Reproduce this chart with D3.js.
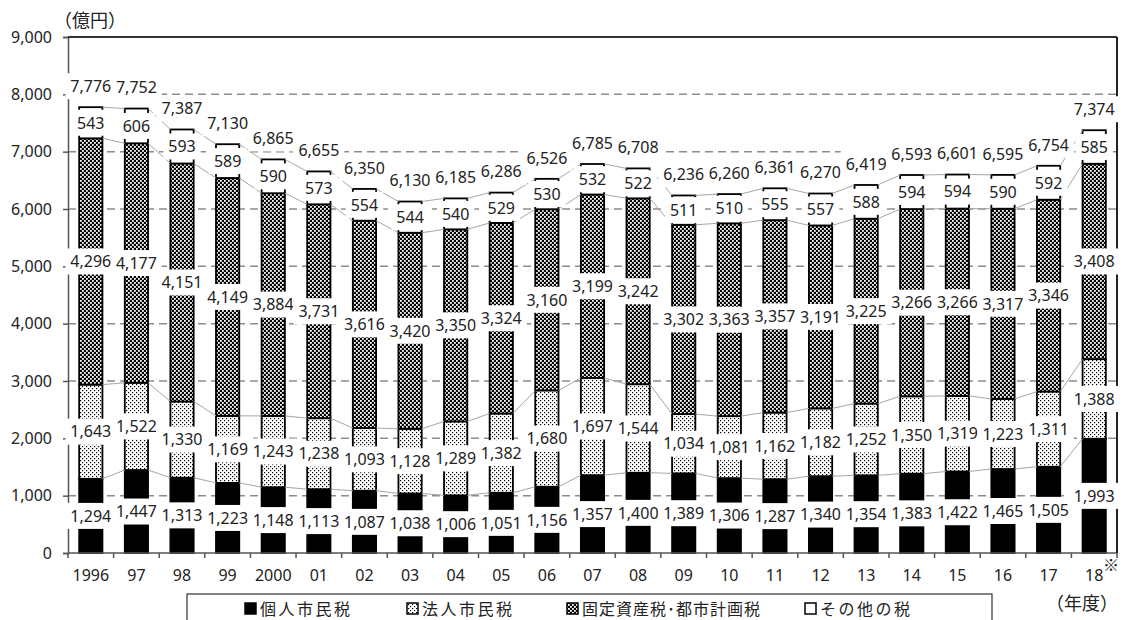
<!DOCTYPE html>
<html>
<head>
<meta charset="utf-8">
<script src="https://cdn.jsdelivr.net/npm/d3@7"></script>
<style>
  body { margin: 0; background: #fff; }
  svg text { font-family: "Noto Sans", "Noto Sans CJK JP", sans-serif; }
  .jp { font-family: "Noto Sans CJK JP", sans-serif; }
</style>
</head>
<body>
<svg id="chart" width="1125" height="620"></svg>
<script>
/*Data*/
var years = ['1996','97','98','99','2000','01','02','03','04','05','06','07','08','09','10','11','12','13','14','15','16','17','18'];
var kojin  = [1294,1447,1313,1223,1148,1113,1087,1038,1006,1051,1156,1357,1400,1389,1306,1287,1340,1354,1383,1422,1465,1505,1993];
var hojin  = [1643,1522,1330,1169,1243,1238,1093,1128,1289,1382,1680,1697,1544,1034,1081,1162,1182,1252,1350,1319,1223,1311,1388];
var kotei  = [4296,4177,4151,4149,3884,3731,3616,3420,3350,3324,3160,3199,3242,3302,3363,3357,3191,3225,3266,3266,3317,3346,3408];
var sonota = [543,606,593,589,590,573,554,544,540,529,530,532,522,511,510,555,557,588,594,594,590,592,585];
var totals = [7776,7752,7387,7130,6865,6655,6350,6130,6185,6286,6526,6785,6708,6236,6260,6361,6270,6419,6593,6601,6595,6754,7374];
var yTicks = [0,1000,2000,3000,4000,5000,6000,7000,8000,9000];
var seriesNames = ['個人市民税','法人市民税','固定資産税･都市計画税','その他の税'];

var svg = d3.select('#chart'),
    plotL = 68, plotR = 1117, plotT = 37, plotB = 553;

var x = d3.scaleBand().domain(years).range([plotL, plotR]).paddingInner(0.49).paddingOuter(0.245),
    y = d3.scaleLinear().domain([0, 9000]).range([plotB, plotT]);

/*Patterns*/
var defs = svg.append('defs');
var dots = defs.append('pattern').attr('id', 'dots').attr('patternUnits', 'userSpaceOnUse')
    .attr('width', 4).attr('height', 4);
dots.append('rect').attr('width', 4).attr('height', 4).attr('fill', '#fff');
dots.append('rect').attr('x', 0).attr('y', 0).attr('width', 1.2).attr('height', 1.2).attr('fill', '#000');
dots.append('rect').attr('x', 2).attr('y', 2).attr('width', 1.2).attr('height', 1.2).attr('fill', '#000');

var check = defs.append('pattern').attr('id', 'check').attr('patternUnits', 'userSpaceOnUse')
    .attr('width', 4).attr('height', 4);
check.append('rect').attr('width', 4).attr('height', 4).attr('fill', '#000');
check.append('rect').attr('x', 0).attr('y', 0).attr('width', 1.8).attr('height', 1.8).attr('fill', '#fff');
check.append('rect').attr('x', 2).attr('y', 2).attr('width', 1.8).attr('height', 1.8).attr('fill', '#fff');

var fills = ['#000', 'url(#dots)', 'url(#check)', '#fff'];

/*Stack*/
var rows = years.map(function(yr, i) {
  return {year: yr, a: kojin[i], b: hojin[i], c: kotei[i], d: sonota[i], total: totals[i]};
});
var stack = d3.stack().keys(['a','b','c','d'])(rows);

/*Grid*/
svg.append('g').selectAll('line')
  .data(yTicks.filter(function(t) { return t > 0 && t < 9000; }))
  .enter().append('line')
    .attr('x1', plotL).attr('x2', plotR)
    .attr('y1', function(d) { return y(d); }).attr('y2', function(d) { return y(d); })
    .attr('stroke', '#8c8c8c').attr('stroke-width', 1.5).attr('stroke-dasharray', '8,5');

/*Bars*/
stack.forEach(function(s, k) {
  svg.append('g').selectAll('rect')
    .data(s)
    .enter().append('rect')
      .attr('x', function(d) { return x(d.data.year); })
      .attr('y', function(d) { return y(d[1]); })
      .attr('width', x.bandwidth())
      .attr('height', function(d) { return y(d[0]) - y(d[1]); })
      .attr('fill', fills[k])
      .attr('stroke', '#000').attr('stroke-width', 1.8);
});

/*Series lines*/
stack.forEach(function(s) {
  var segs = d3.pairs(s);
  svg.append('g').selectAll('line')
    .data(segs)
    .enter().append('line')
      .attr('x1', function(p) { return x(p[0].data.year) + x.bandwidth(); })
      .attr('y1', function(p) { return y(p[0][1]); })
      .attr('x2', function(p) { return x(p[1].data.year); })
      .attr('y2', function(p) { return y(p[1][1]); })
      .attr('stroke', '#a6a6a6').attr('stroke-width', 1);
});

/*Axes*/
var axY = svg.append('g').attr('transform', 'translate(' + plotL + ',0)')
  .call(d3.axisLeft(y).tickValues(yTicks).tickSize(5).tickFormat(d3.format(',')));
axY.select('.domain').attr('stroke', '#555').attr('stroke-width', 1.5);
axY.selectAll('.tick line').attr('stroke', '#555').attr('stroke-width', 1.5);
axY.selectAll('.tick text').attr('x', -16).attr('font-size', 16)
  .attr('font-family', '"Noto Sans", sans-serif').attr('fill', '#222');

var bounds = years.map(function(yr) { return x(yr) - x.step() * 0.245; }).concat([plotR]);
var axX = svg.append('g');
axX.append('line').attr('x1', plotL).attr('x2', plotR).attr('y1', plotB).attr('y2', plotB)
  .attr('stroke', '#555').attr('stroke-width', 1.5);
axX.selectAll('.tk').data(bounds).enter().append('line')
  .attr('x1', function(d) { return d; }).attr('x2', function(d) { return d; })
  .attr('y1', plotB).attr('y2', plotB + 5)
  .attr('stroke', '#555').attr('stroke-width', 1.5);
axX.selectAll('text').data(years).enter().append('text')
  .attr('x', function(d) { return x(d) + x.bandwidth() / 2; })
  .attr('y', 581)
  .attr('text-anchor', 'middle').attr('font-size', 16).attr('fill', '#222')
  .text(function(d) { return d; });

// top and right border
svg.append('line').attr('x1', plotL).attr('x2', plotR).attr('y1', plotT).attr('y2', plotT)
  .attr('stroke', '#333').attr('stroke-width', 2);
svg.append('line').attr('x1', plotR).attr('x2', plotR).attr('y1', plotT).attr('y2', plotB)
  .attr('stroke', '#222').attr('stroke-width', 2);

/*Labels*/
var fmt = d3.format(',');
function label(cx, cy, txt) {
  var g = svg.append('g');
  var r = g.append('rect').attr('fill', '#fff');
  var t = g.append('text').attr('x', cx).attr('y', cy).attr('dy', '0.36em')
    .attr('text-anchor', 'middle').attr('font-size', 16).attr('fill', '#222').text(txt);
  var w = t.node().getComputedTextLength() + 10;
  r.attr('x', cx - w / 2).attr('y', cy - 13).attr('width', w).attr('height', 26);
}
stack.forEach(function(s) {
  s.forEach(function(d) {
    label(x(d.data.year) + x.bandwidth() / 2, (y(d[0]) + y(d[1])) / 2, fmt(d[1] - d[0]));
  });
});
rows.forEach(function(d) {
  label(x(d.year) + x.bandwidth() / 2, y(d.total) - 21, fmt(d.total));
});

/*Titles*/
svg.append('text').attr('class', 'jp').attr('x', 54).attr('y', 27)
  .attr('font-size', 18).attr('fill', '#222').text('（億円）');
svg.append('text').attr('class', 'jp').attr('x', 1046).attr('y', 610)
  .attr('font-size', 18).attr('fill', '#222').text('（年度）');
svg.append('text').attr('class', 'jp').attr('x', 1103).attr('y', 571)
  .attr('font-size', 16).attr('fill', '#222').text('※');

/*Legend*/
var leg = svg.append('g');
leg.append('rect').attr('x', 187).attr('y', 594).attr('width', 805).attr('height', 40)
  .attr('fill', '#fff').attr('stroke', '#333').attr('stroke-width', 1.2);
var legX = [245, 407, 567, 805];
seriesNames.forEach(function(n, k) {
  leg.append('rect').attr('x', legX[k]).attr('y', 603).attr('width', 11).attr('height', 11)
    .attr('fill', fills[k]).attr('stroke', '#000').attr('stroke-width', 1.5);
  leg.append('text').attr('class', 'jp').attr('x', legX[k] + 15).attr('y', 615)
    .attr('font-size', 16).attr('letter-spacing', k === 2 ? 1 : 2.5).attr('fill', '#222').text(n);
});
</script>
</body>
</html>
